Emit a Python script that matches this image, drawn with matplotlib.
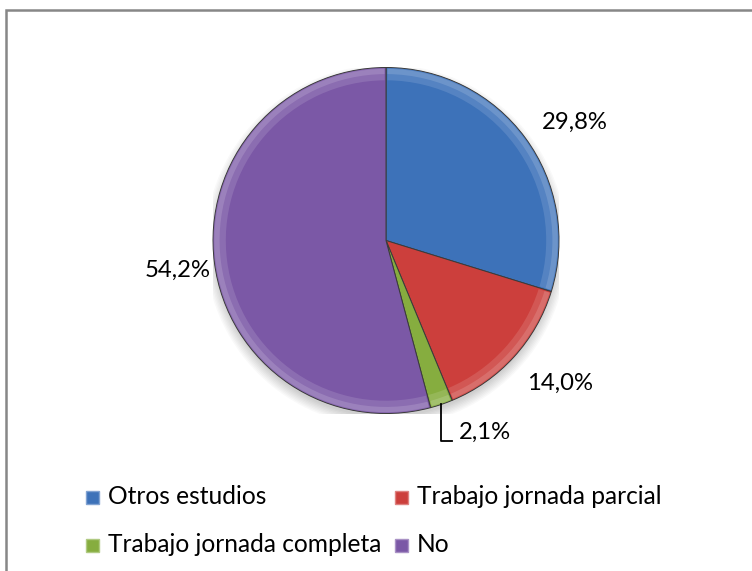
import matplotlib
matplotlib.use("Agg")
import matplotlib.pyplot as plt
from matplotlib.patches import Rectangle, Circle, Wedge
from matplotlib.textpath import TextPath
from matplotlib.font_manager import FontProperties
import matplotlib.colors as mcolors
import numpy as np

categories = ["Otros estudios", "Trabajo jornada parcial", "Trabajo jornada completa", "No"]
values = [29.8, 14.0, 2.1, 54.2]
labels = ["29,8%", "14,0%", "2,1%", "54,2%"]
colors = ["#3D72B9", "#CC3F3C", "#86AD3F", "#7B58A6"]

W, H = 752, 571
DPI = 100
FAMILY = ['Lato', 'DejaVu Sans']
plt.rcParams['font.family'] = FAMILY


def size_for_width(text, target_px):
    fp = FontProperties(family=FAMILY, size=10)
    w = TextPath((0, 0), text, prop=fp).get_extents().width
    w_px = w * DPI / 72.0
    return 10 * target_px / w_px


fs_lab = size_for_width("29,8%", 64)
fs_leg = size_for_width("Trabajo jornada parcial", 243)

fig = plt.figure(figsize=(W / DPI, H / DPI), dpi=DPI)
fig.patch.set_facecolor("white")

fig.patches.append(Rectangle((6 / W, -0.1), 1.2, (H - 10) / H + 0.1, transform=fig.transFigure,
                             fill=False, edgecolor="#878787", linewidth=1.8))

cx, cy, R = 386, 240.5, 173
ax = fig.add_axes([(cx - R) / W, (H - cy - R) / H, 2 * R / W, 2 * R / H])


def lighten(c, f):
    r, g, b = mcolors.to_rgb(c)
    return (r + (1 - r) * f, g + (1 - g) * f, b + (1 - b) * f)


for i in range(8):
    ax.add_patch(Circle((0.0, -0.03), 0.99 + 0.008 * i, color="black", alpha=0.022, zorder=0, linewidth=0))

wedges, _ = ax.pie(values, colors=colors, startangle=90, counterclock=False, radius=1.0,
                   wedgeprops=dict(linewidth=0.7, edgecolor="#3a3a3a"), normalize=True)
for w in wedges:
    w.set_zorder(2)

total = sum(values)
start = 90.0
mids = []
for v, c in zip(values, colors):
    ang = v / total * 360
    mids.append(np.deg2rad(start - ang / 2))
    ax.add_patch(Wedge((0, 0), 0.996, start - ang + 0.5, start - 0.5, width=0.07,
                       facecolor=lighten(c, 0.18), edgecolor="none", alpha=0.7, zorder=3))
    ax.add_patch(Wedge((0, 0), 0.992, start - ang + 0.5, start - 0.5, width=0.03,
                       facecolor=lighten(c, 0.3), edgecolor="none", alpha=0.7, zorder=3))
    start -= ang

ax.set_xlim(-1, 1)
ax.set_ylim(-1, 1)
ax.set_aspect("equal")
ax.axis("off")


def px(x, y):
    return ((x - cx) / R, -(y - cy) / R)


label_px = [(575, 122), (560, 383), None, (178, 270)]
for lab, pos in zip(labels, label_px):
    if pos is None:
        continue
    ax.text(*px(*pos), lab, ha="center", va="center", fontsize=fs_lab, color="black", zorder=5)

m = mids[2]
ex, ey = np.cos(m), np.sin(m)
ly = px(0, 441)[1]
lx = px(452, 0)[0]
ax.plot([ex, ex, lx], [ey, ly, ly], color="black", linewidth=1.3, clip_on=False, zorder=5)
ax.text(*px(459, 432), labels[2], ha="left", va="center", fontsize=fs_lab, color="black", zorder=5)

leg = [(86, 497), (395, 497), (86, 545), (395, 545)]
ms = 13
for (x, y), cat, c in zip(leg, categories, colors):
    fig.patches.append(Rectangle((x / W, (H - y - ms / 2) / H), ms / W, ms / H, transform=fig.transFigure,
                                 facecolor=c, edgecolor=lighten(c, 0.35), linewidth=1.0))
    fig.text((x + 22) / W, (H - y) / H, cat, ha="left", va="center", fontsize=fs_leg, color="black")

fig.savefig("out.png", dpi=DPI, facecolor="white")
